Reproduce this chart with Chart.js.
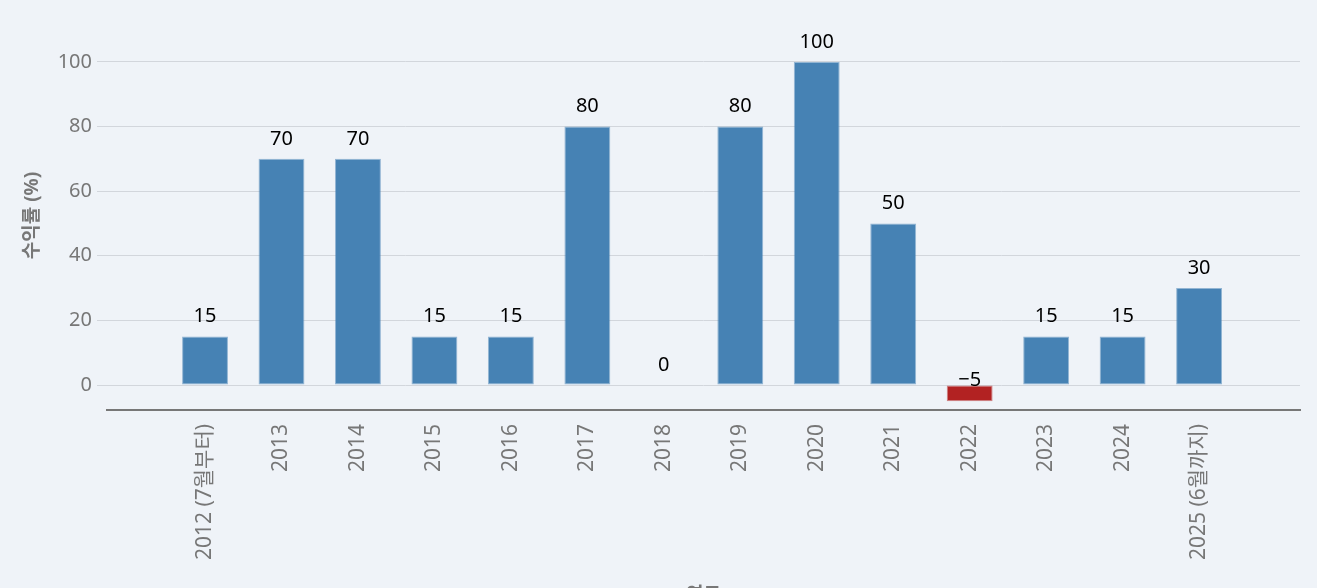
<!DOCTYPE html>
<html>
<head>
<meta charset="utf-8">
<script src="https://cdn.jsdelivr.net/npm/chart.js@4"></script>
<style>
  html, body { margin: 0; padding: 0; background: #eff3f8; }
  #wrap { width: 1317px; height: 588px; }
</style>
</head>
<body>
<div id="wrap"><canvas id="myChart" width="1317" height="588"></canvas></div>
<script>
const years = ["2012 (7월부터)", "2013", "2014", "2015", "2016", "2017", "2018", "2019", "2020", "2021", "2022", "2023", "2024", "2025 (6월까지)"];
const returns = [15, 70, 70, 15, 15, 80, 0, 80, 100, 50, -5, 15, 15, 30];
const yTicks = [0, 20, 40, 60, 80, 100];

const FONT = "'Noto Sans', 'Noto Sans CJK KR', sans-serif";

const valueLabels = {
  id: "valueLabels",
  afterDatasetsDraw(chart) {
    const { ctx, scales } = chart;
    const meta = chart.getDatasetMeta(0);
    const zeroY = scales.y.getPixelForValue(0);
    ctx.save();
    ctx.font = "20px " + FONT;
    ctx.fillStyle = "#000";
    ctx.textAlign = "center";
    ctx.textBaseline = "middle";
    meta.data.forEach((bar, i) => {
      const v = returns[i];
      const txt = v < 0 ? "\u2212" + Math.abs(v) : String(v);
      const y = v < 0 ? zeroY - 5 : bar.y - 20;
      ctx.fillText(txt, bar.x, y);
    });
    ctx.restore();
  }
};

const ctx = document.getElementById("myChart");

new Chart(ctx, {
  type: "bar",
  data: {
    datasets: [
      {
        label: "수익률",
        data: returns.map((v, i) => ({ x: i, y: v })),
        backgroundColor: returns.map((v) => (v < 0 ? "#b22222" : "#4682b4")),
        borderColor: returns.map((v) => (v < 0 ? "rgba(178, 34, 34, 0.55)" : "rgba(70, 130, 180, 0.55)")),
        borderWidth: 1,
        borderSkipped: false,
        categoryPercentage: 1,
        barPercentage: 0.6
      }
    ]
  },
  plugins: [valueLabels],
  options: {
    responsive: false,
    animation: false,
    layout: { padding: { top: 21, right: 17, left: 0, bottom: 0 } },
    plugins: {
      legend: { display: false },
      tooltip: { enabled: false }
    },
    scales: {
      x: {
        type: "linear",
        offset: false,
        min: -1.282,
        max: 14.32,
        grid: { display: false, drawTicks: false, offset: false },
        border: { display: true, color: "#777", width: 2 },
        afterBuildTicks: (scale) => {
          scale.ticks = years.map((_, i) => ({ value: i }));
        },
        afterFit: (scale) => {
          scale.height = 178;
        },
        ticks: {
          autoSkip: false,
          minRotation: 90,
          maxRotation: 90,
          padding: 14,
          color: "#777",
          font: { family: FONT, size: 21 },
          callback: (v) => years[v]
        },
        title: {
          display: true,
          text: "연도",
          color: "#777",
          font: { family: FONT, size: 19, weight: "bold" },
          padding: { top: 0, bottom: -19 }
        }
      },
      y: {
        min: -7.72,
        max: 112.65,
        grid: { color: "#d2d6dc", lineWidth: 1, tickLength: 10, drawTicks: true },
        border: { display: false },
        afterBuildTicks: (scale) => {
          scale.ticks = yTicks.map((v) => ({ value: v }));
        },
        afterFit: (scale) => {
          scale.width = 107;
        },
        ticks: {
          padding: 5,
          color: "#777",
          font: { family: FONT, size: 20 }
        },
        title: {
          display: true,
          text: "수익률 (%)",
          color: "#777",
          font: { family: FONT, size: 19, weight: "bold" },
          padding: { top: 21, bottom: 0 }
        }
      }
    }
  }
});
</script>
</body>
</html>
